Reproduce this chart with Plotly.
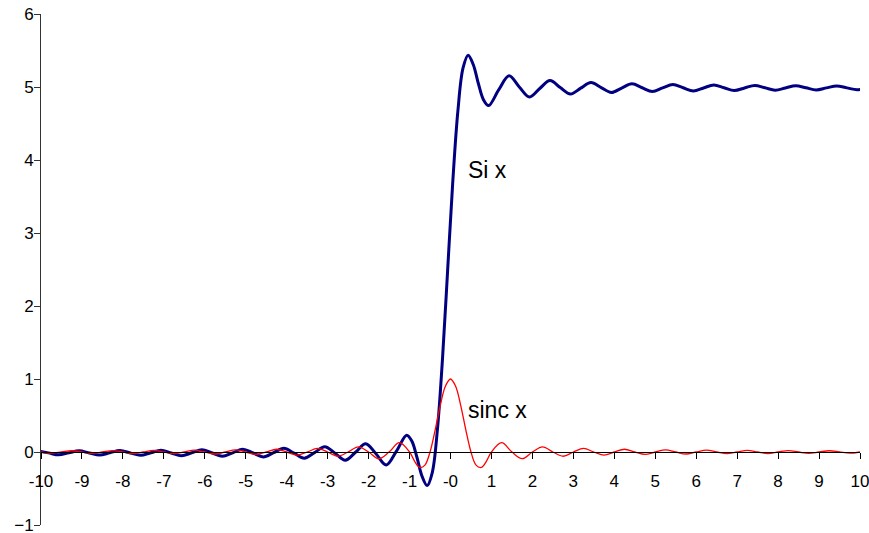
import plotly.graph_objects as go

# ---- data ----
sinc_x = [-10, -9.75, -9.5, -9.25, -9, -8.75, -8.5, -8.25, -8, -7.75, -7.5, -7.25,
          -7, -6.75, -6.5, -6.25, -6, -5.75, -5.5, -5.25, -5, -4.75, -4.5, -4.25,
          -4, -3.75, -3.5, -3.25, -3, -2.75, -2.5, -2.25, -2, -1.75, -1.5, -1.25, -1,
          -0.875, -0.75, -0.625, -0.5, -0.375, -0.25, -0.125, 0, 0.125, 0.25, 0.375,
          0.5, 0.625, 0.75, 0.875,
          1, 1.25, 1.5, 1.75, 2, 2.25, 2.5, 2.75, 3, 3.25, 3.5, 3.75, 4, 4.25, 4.5,
          4.75, 5, 5.25, 5.5, 5.75, 6, 6.25, 6.5, 6.75, 7, 7.25, 7.5, 7.75, 8, 8.25,
          8.5, 8.75, 9, 9.25, 9.5, 9.75, 10]
sinc_y = [0, -0.0163, 0, 0.0172, 0, -0.0182, 0, 0.0193, 0, -0.0205, 0, 0.0220,
          0, -0.0236, 0, 0.0255, 0, -0.0277, 0, 0.0303, 0, -0.0335, 0, 0.0374,
          0, -0.0424, 0, 0.0490, 0, -0.0579, 0, 0.0707, 0, -0.0909, 0, 0.1273, 0,
          -0.1286, -0.2122, -0.1801, 0, 0.3001, 0.6366, 0.9003, 1.0, 0.9003, 0.6366, 0.3001,
          0, -0.1801, -0.2122, -0.1286,
          0, 0.1273, 0, -0.0909, 0, 0.0707, 0, -0.0579, 0, 0.0490, 0, -0.0424, 0, 0.0374, 0,
          -0.0335, 0, 0.0303, 0, -0.0277, 0, 0.0255, 0, -0.0236, 0, 0.0220, 0, -0.0205, 0, 0.0193,
          0, -0.0182, 0, 0.0172, 0, -0.0163, 0]

si_x = [-10.07, -9.82, -9.57, -9.32, -9.07, -8.82, -8.57, -8.32, -8.07, -7.82, -7.57, -7.32,
        -7.07, -6.82, -6.57, -6.32, -6.07, -5.82, -5.57, -5.32, -5.07, -4.82, -4.57, -4.32,
        -4.07, -3.82, -3.57, -3.32, -3.07, -2.82, -2.57, -2.32, -2.07, -1.82, -1.57, -1.32, -1.07,
        -0.945, -0.82, -0.695, -0.57, -0.445, -0.32, -0.195, -0.07, 0.055, 0.18, 0.305,
        0.43, 0.555, 0.68, 0.805,
        0.93, 1.18, 1.43, 1.68, 1.93, 2.18, 2.43, 2.68, 2.93, 3.18, 3.43, 3.68, 3.93, 4.18, 4.43,
        4.68, 4.93, 5.18, 5.43, 5.68, 5.93, 6.18, 6.43, 6.68, 6.93, 7.18, 7.43, 7.68, 7.93, 8.18,
        8.43, 8.68, 8.93, 9.18, 9.43, 9.68, 9.93, 10.18]
si_y = [0.013, -0.012, -0.039, -0.012, 0.016, -0.013, -0.042, -0.011, 0.020, -0.013, -0.046, -0.011,
        0.024, -0.013, -0.051, -0.011, 0.030, -0.013, -0.058, -0.011, 0.039, -0.014, -0.068, -0.010,
        0.051, -0.015, -0.084, -0.008, 0.072, -0.017, -0.113, -0.004, 0.113, -0.025, -0.178, 0.012, 0.231,
        0.150, -0.072, -0.332, -0.460, -0.281, 0.306, 1.280, 2.488, 3.696, 4.670, 5.257,
        5.436, 5.308, 5.048, 4.826,
        4.745, 4.964, 5.154, 5.001, 4.863, 4.980, 5.089, 4.993, 4.904, 4.984, 5.060, 4.991, 4.925, 4.986, 5.044,
        4.990, 4.937, 4.987, 5.034, 4.989, 4.946, 4.987, 5.027, 4.989, 4.952, 4.987, 5.022, 4.989, 4.956, 4.987,
        5.018, 4.989, 4.960, 4.988, 5.015, 4.988, 4.963, 4.988]

x_tick_vals = [-10, -9, -8, -7, -6, -5, -4, -3, -2, -1, 0, 1, 2, 3, 4, 5, 6, 7, 8, 9, 10]
x_tick_text = ["-10", "-9", "-8", "-7", "-6", "-5", "-4", "-3", "-2", "-1", "-0",
               "1", "2", "3", "4", "5", "6", "7", "8", "9", "10"]
y_tick_vals = [-1, 0, 1, 2, 3, 4, 5, 6]

FONT = "Liberation Sans, Arial, sans-serif"

fig = go.Figure()
fig.add_trace(go.Scatter(x=si_x, y=si_y, mode="lines", name="Si x",
                         line=dict(color="#000080", width=3, shape="spline", smoothing=1)))
fig.add_trace(go.Scatter(x=sinc_x, y=sinc_y, mode="lines", name="sinc x",
                         line=dict(color="#FF0000", width=1.3, shape="spline", smoothing=1)))

fig.add_annotation(x=0.38, y=3.86, text="Si x", showarrow=False, xanchor="left", yanchor="middle",
                   font=dict(family=FONT, size=23, color="black"))
fig.add_annotation(x=0.37, y=0.574, text="sinc x", showarrow=False, xanchor="left", yanchor="middle",
                   font=dict(family=FONT, size=23, color="black"))

fig.update_layout(
    width=869, height=533,
    margin=dict(l=41, r=9, t=14, b=8, autoexpand=False),
    paper_bgcolor="white", plot_bgcolor="white",
    showlegend=False,
    font=dict(family=FONT, size=17, color="black"),
    xaxis=dict(range=[-10, 10], tickmode="array", tickvals=x_tick_vals, ticktext=x_tick_text,
               ticks="outside", ticklen=6, tickcolor="black", tickwidth=1,
               showline=True, linecolor="black", linewidth=1,
               showgrid=False, zeroline=False, anchor="free", position=1/7,
               ticklabelstandoff=8, ticklabeloverflow="allow", automargin=False,
               tickfont=dict(family=FONT, size=17, color="black")),
    yaxis=dict(range=[-1, 6], tickmode="array", tickvals=y_tick_vals,
               ticks="outside", ticklen=6, tickcolor="#333333", tickwidth=1,
               showline=True, linecolor="#333333", linewidth=1,
               showgrid=False, zeroline=False, ticklabelstandoff=-3, ticklabeloverflow="allow",
               automargin=False,
               tickfont=dict(family=FONT, size=17, color="black")),
)

fig.write_html("out.html")
